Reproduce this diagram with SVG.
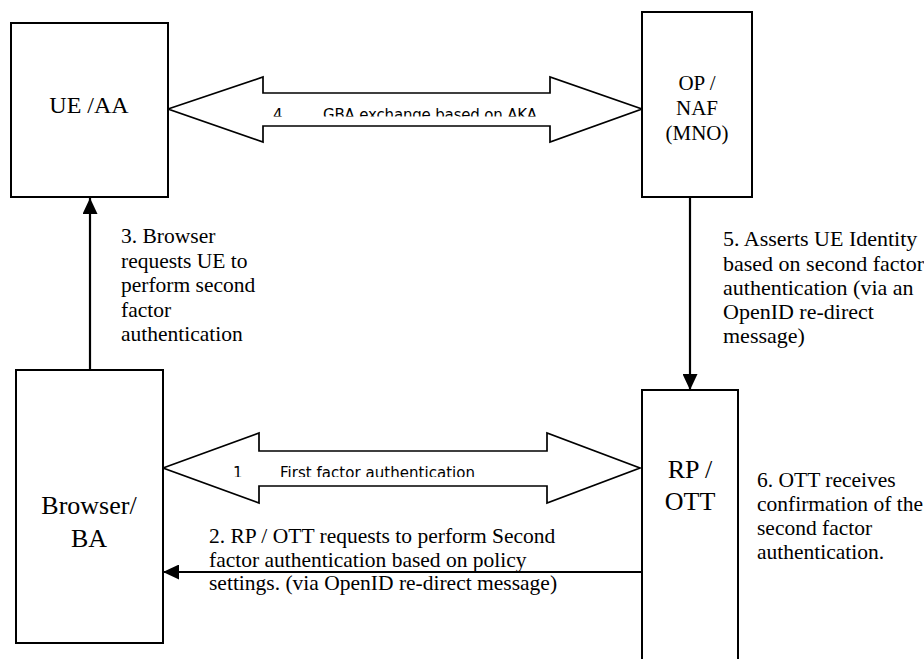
<svg xmlns="http://www.w3.org/2000/svg" width="924" height="659" viewBox="0 0 924 659">
<style>
.box{fill:#fff;stroke:#000;stroke-width:2}
.big{fill:#fff;stroke:#000;stroke-width:1.7;stroke-linejoin:miter}
.con{fill:none;stroke:#000;stroke-width:2.2}
.nt{font-family:"Liberation Serif","Times New Roman",serif;fill:#000;text-anchor:middle}
.lb{font-family:"Liberation Serif","Times New Roman",serif;fill:#000;font-size:21.5px}
.sl{font-family:"DejaVu Sans",sans-serif;fill:#000;font-size:15px}
</style>
<defs>
<marker id="ah" viewBox="0 0 16 15" refX="16" refY="7.5" markerWidth="16" markerHeight="15" markerUnits="userSpaceOnUse" orient="auto">
<path d="M0,0 L16,7.5 L0,15 Z" fill="#000"/>
</marker>
<clipPath id="c4"><rect x="260" y="90" width="300" height="26.5"/></clipPath>
<clipPath id="c1"><rect x="220" y="450" width="330" height="27"/></clipPath>
</defs>
<rect width="924" height="659" fill="#fff"/>
<g id="connectors">
<polygon class="big" points="168,109 263,77 263,93 550,93 550,77 642,109 550,142 550,126 263,126 263,142"/>
<g clip-path="url(#c4)">
<text class="sl" x="273" y="119.5">4</text>
<text class="sl" x="323" y="119.5" textLength="214">GBA exchange based on AKA</text>
</g>
<polygon class="big" points="163,468 259,433 259,451 547,451 547,433 640,468 547,503 547,486 259,486 259,503"/>
<g clip-path="url(#c1)">
<text class="sl" x="233" y="478">1</text>
<text class="sl" x="280" y="478" textLength="195">First factor authentication</text>
</g>
<line class="con" x1="90" y1="370" x2="90" y2="198" marker-end="url(#ah)"/>
<line class="con" x1="690" y1="197" x2="690" y2="390" marker-end="url(#ah)"/>
<line class="con" x1="642" y1="572" x2="163" y2="572" marker-end="url(#ah)"/>
<text class="lb"><tspan x="121" y="243">3. Browser</tspan><tspan x="121" y="267.5">requests UE to</tspan><tspan x="121" y="292">perform second</tspan><tspan x="121" y="316.5">factor</tspan><tspan x="121" y="341">authentication</tspan></text>
<text class="lb" style="font-size:22px"><tspan x="723" y="246">5. Asserts UE Identity</tspan><tspan x="723" y="270.5">based on second factor</tspan><tspan x="723" y="295">authentication (via an</tspan><tspan x="723" y="319">OpenID re-direct</tspan><tspan x="723" y="343">message)</tspan></text>
<text class="lb"><tspan x="757" y="487">6. OTT receives</tspan><tspan x="757" y="511">confirmation of the</tspan><tspan x="757" y="535">second factor</tspan><tspan x="757" y="559">authentication.</tspan></text>
</g>
<g id="ue">
<rect class="box" x="11" y="23" width="157" height="174"/>
<text class="nt" x="89" y="113" style="font-size:24px">UE /AA</text>
</g>
<g id="op">
<rect class="box" x="642" y="12" width="110" height="185"/>
<text class="nt" style="font-size:21px"><tspan x="697" y="90">OP /</tspan><tspan x="697" y="115">NAF</tspan><tspan x="697" y="140">(MNO)</tspan></text>
</g>
<g id="browser">
<rect class="box" x="16" y="370" width="147" height="273"/>
<text class="nt" style="font-size:26px"><tspan x="89" y="514">Browser/</tspan><tspan x="89" y="547">BA</tspan></text>
</g>
<g id="rp">
<rect class="box" x="642" y="390" width="96" height="290"/>
<text class="nt" style="font-size:26px"><tspan x="690" y="478">RP /</tspan><tspan x="690" y="510">OTT</tspan></text>
</g>
<text class="lb"><tspan x="209" y="543">2. RP / OTT requests to perform Second</tspan><tspan x="209" y="566.5">factor authentication based on policy</tspan><tspan x="209" y="590">settings. (via OpenID re-direct message)</tspan></text>
</svg>
